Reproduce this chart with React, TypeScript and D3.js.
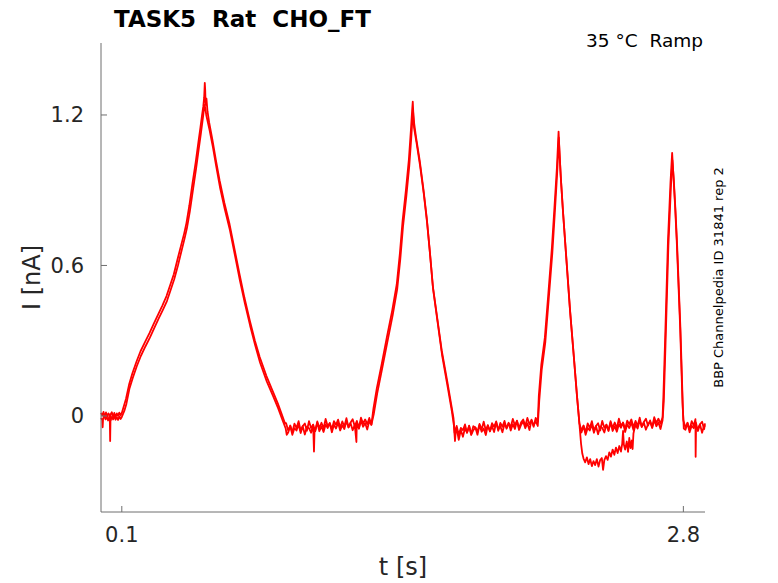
import * as d3 from 'd3';
import { useEffect, useRef } from 'react';

// axis ticks
const xTicks = [0.1, 2.8];
const yTicks = [0, 0.6, 1.2];

// sweep A - upper side of the recorded band, [t (s), I (nA)]
const sweepA: [number, number][] = [
    [0.000, 0.012], [0.006, 0.002], [0.012, 0.016], [0.018, -0.004], [0.024, 0.014], [0.030, -0.002], [0.036, 0.010], [0.042, 0.003],
    [0.044, -0.100], [0.046, 0.006], [0.052, 0.015], [0.058, -0.003], [0.064, 0.012], [0.070, -0.005], [0.076, 0.010], [0.082, 0.000],
    [0.088, 0.013], [0.094, 0.002], [0.100, 0.012],
    [0.110, 0.040], [0.120, 0.068], [0.135, 0.125], [0.151, 0.170], [0.170, 0.215], [0.190, 0.258], [0.212, 0.295], [0.233, 0.330],
    [0.255, 0.370], [0.275, 0.405], [0.295, 0.440], [0.315, 0.478], [0.332, 0.520], [0.350, 0.565], [0.368, 0.625], [0.385, 0.680],
    [0.400, 0.728], [0.411, 0.770], [0.425, 0.840], [0.440, 0.928], [0.455, 1.010], [0.468, 1.090], [0.478, 1.150], [0.486, 1.200],
    [0.492, 1.235], [0.496, 1.270], [0.499, 1.328], [0.501, 1.300], [0.503, 1.240], [0.507, 1.265], [0.512, 1.215],
    [0.520, 1.170], [0.536, 1.100], [0.552, 1.022], [0.570, 0.940], [0.593, 0.850], [0.618, 0.765], [0.642, 0.665], [0.666, 0.565],
    [0.690, 0.470], [0.715, 0.382], [0.740, 0.300], [0.763, 0.235], [0.795, 0.160], [0.825, 0.100], [0.850, 0.050], [0.870, 0.005],
    [0.885, -0.030],
    [0.89, -0.029], [0.90, -0.058], [0.91, -0.038], [0.92, -0.065], [0.93, -0.031], [0.94, -0.048], [0.95, -0.021], [0.96, -0.059],
    [0.97, -0.040], [0.98, -0.030], [0.99, -0.059], [1.00, -0.021], [1.01, -0.048], [1.02, -0.035], [1.03, -0.061], [1.04, -0.022],
    [1.05, -0.048], [1.06, -0.027], [1.07, -0.050], [1.08, -0.012], [1.09, -0.041], [1.10, -0.029], [1.11, -0.053], [1.12, -0.021],
    [1.13, -0.035], [1.14, -0.015], [1.15, -0.047], [1.16, -0.022], [1.17, -0.042], [1.18, -0.009], [1.19, -0.046], [1.20, -0.026],
    [1.21, -0.013], [1.22, -0.041], [1.23, -0.020], [1.24, -0.048], [1.25, -0.007], [1.26, -0.030], [1.27, -0.014], [1.28, -0.033],
    [1.29, -0.008], [1.30, -0.035],
    [1.310, 0.030], [1.326, 0.110], [1.350, 0.208], [1.374, 0.312], [1.400, 0.420], [1.422, 0.525], [1.437, 0.648], [1.450, 0.778],
    [1.466, 0.900], [1.480, 1.020], [1.490, 1.140], [1.496, 1.220], [1.499, 1.253], [1.502, 1.200], [1.506, 1.165],
    [1.515, 1.110], [1.532, 1.020], [1.550, 0.905], [1.566, 0.790], [1.580, 0.665], [1.595, 0.520], [1.617, 0.388], [1.638, 0.262],
    [1.667, 0.128], [1.685, 0.040], [1.695, -0.010],
    [1.70, -0.067], [1.71, -0.040], [1.72, -0.075], [1.73, -0.048], [1.74, -0.057], [1.75, -0.034], [1.76, -0.067], [1.77, -0.040],
    [1.78, -0.072], [1.79, -0.041], [1.80, -0.046], [1.81, -0.064], [1.82, -0.032], [1.83, -0.054], [1.84, -0.023], [1.85, -0.057],
    [1.86, -0.038], [1.87, -0.060], [1.88, -0.029], [1.89, -0.043], [1.90, -0.022], [1.91, -0.059], [1.92, -0.028], [1.93, -0.043],
    [1.94, -0.020], [1.95, -0.051], [1.96, -0.030], [1.97, -0.044], [1.98, -0.012], [1.99, -0.037], [2.00, -0.020], [2.01, -0.048],
    [2.02, -0.025], [2.03, -0.014], [2.04, -0.040], [2.05, -0.008], [2.06, -0.033], [2.07, -0.017], [2.08, -0.043], [2.09, -0.008],
    [2.10, -0.023],
    [2.105, 0.080], [2.117, 0.205], [2.134, 0.312], [2.151, 0.490], [2.168, 0.672], [2.180, 0.830], [2.192, 0.990], [2.197, 1.080],
    [2.200, 1.134], [2.204, 1.060], [2.210, 0.960], [2.220, 0.830], [2.237, 0.630], [2.254, 0.432], [2.271, 0.260], [2.288, 0.085],
    [2.296, 0.010],
    [2.30, -0.029], [2.31, -0.058], [2.32, -0.038], [2.33, -0.065], [2.34, -0.030], [2.35, -0.048], [2.36, -0.021], [2.37, -0.058],
    [2.38, -0.040], [2.39, -0.029], [2.40, -0.058], [2.41, -0.020], [2.42, -0.047], [2.43, -0.035], [2.44, -0.060], [2.45, -0.021],
    [2.46, -0.047], [2.47, -0.026], [2.48, -0.049], [2.49, -0.011], [2.50, -0.040], [2.51, -0.027], [2.52, -0.052], [2.53, -0.019],
    [2.54, -0.033], [2.55, -0.014], [2.56, -0.045], [2.57, -0.020], [2.58, -0.040], [2.59, -0.007], [2.60, -0.044], [2.61, -0.024],
    [2.62, -0.011], [2.63, -0.039], [2.64, -0.018], [2.65, -0.045], [2.66, -0.005], [2.67, -0.028], [2.68, -0.011], [2.69, -0.031],
    [2.70, -0.005],
    [2.704, 0.080], [2.712, 0.300], [2.726, 0.700], [2.738, 0.930], [2.746, 1.049], [2.752, 0.960], [2.760, 0.840], [2.768, 0.700],
    [2.784, 0.365], [2.796, 0.050],
    [2.80, -0.017], [2.81, -0.047], [2.82, -0.027], [2.83, -0.055], [2.84, -0.021], [2.85, -0.039], [2.858, -0.013], [2.859, -0.163],
    [2.861, -0.045], [2.87, -0.051], [2.88, -0.033], [2.89, -0.023], [2.90, -0.053], [2.904, -0.030]
];

// sweep B - lower side of the band, incl. the deep trace after the third peak
const sweepB: [number, number][] = [
    [0.000, -0.008], [0.006, -0.016], [0.008, -0.045], [0.010, -0.012], [0.016, 0.004], [0.022, -0.014], [0.028, -0.004], [0.034, -0.018],
    [0.040, -0.002], [0.046, -0.018], [0.052, -0.004], [0.058, -0.014], [0.064, 0.002], [0.070, -0.015], [0.076, -0.005], [0.082, -0.016],
    [0.088, -0.002], [0.094, -0.012], [0.100, -0.004],
    [0.112, 0.020], [0.122, 0.048], [0.137, 0.110], [0.153, 0.152], [0.172, 0.198], [0.192, 0.240], [0.214, 0.278], [0.235, 0.312],
    [0.257, 0.352], [0.277, 0.388], [0.297, 0.422], [0.317, 0.458], [0.334, 0.500], [0.352, 0.545], [0.370, 0.600], [0.387, 0.658],
    [0.402, 0.708], [0.413, 0.748], [0.427, 0.815], [0.442, 0.900], [0.457, 0.985], [0.470, 1.065], [0.480, 1.125], [0.488, 1.175],
    [0.494, 1.215], [0.498, 1.240], [0.502, 1.225], [0.506, 1.200],
    [0.514, 1.170], [0.522, 1.140], [0.538, 1.072], [0.554, 0.995], [0.572, 0.912], [0.595, 0.825], [0.620, 0.740], [0.644, 0.640],
    [0.668, 0.540], [0.692, 0.448], [0.717, 0.360], [0.742, 0.280], [0.765, 0.212], [0.797, 0.138], [0.827, 0.080], [0.852, 0.030],
    [0.872, -0.015], [0.888, -0.050], [0.893, -0.075],
    [0.90, -0.066], [0.91, -0.040], [0.92, -0.075], [0.93, -0.049], [0.94, -0.058], [0.95, -0.034], [0.96, -0.068], [0.97, -0.041],
    [0.98, -0.074], [0.99, -0.043], [1.00, -0.049], [1.01, -0.067], [1.02, -0.035], [1.024, -0.142], [1.027, -0.050], [1.03, -0.058],
    [1.04, -0.027], [1.05, -0.061], [1.06, -0.042], [1.07, -0.064], [1.08, -0.034], [1.09, -0.048], [1.10, -0.028], [1.11, -0.065],
    [1.12, -0.035], [1.13, -0.050], [1.14, -0.027], [1.15, -0.058], [1.16, -0.037], [1.17, -0.052], [1.18, -0.020], [1.19, -0.045],
    [1.20, -0.029], [1.21, -0.057], [1.22, -0.035], [1.228, -0.104], [1.23, -0.024], [1.24, -0.051], [1.25, -0.018], [1.26, -0.043],
    [1.27, -0.028], [1.28, -0.054], [1.29, -0.020], [1.30, -0.035],
    [1.312, 0.010], [1.328, 0.090], [1.352, 0.190], [1.376, 0.292], [1.402, 0.400], [1.424, 0.505], [1.439, 0.625], [1.452, 0.755],
    [1.468, 0.875], [1.482, 0.995], [1.491, 1.100], [1.497, 1.180], [1.501, 1.210], [1.505, 1.150],
    [1.517, 1.090], [1.534, 0.998], [1.552, 0.885], [1.568, 0.770], [1.582, 0.645], [1.597, 0.505], [1.619, 0.370], [1.640, 0.242],
    [1.669, 0.105], [1.687, 0.018], [1.697, -0.040], [1.702, -0.100], [1.706, -0.060],
    [1.71, -0.048], [1.72, -0.095], [1.73, -0.056], [1.74, -0.083], [1.75, -0.049], [1.76, -0.066], [1.77, -0.039], [1.78, -0.076],
    [1.79, -0.057], [1.80, -0.046], [1.81, -0.075], [1.82, -0.036], [1.83, -0.063], [1.84, -0.050], [1.85, -0.076], [1.86, -0.037],
    [1.87, -0.062], [1.88, -0.041], [1.89, -0.064], [1.90, -0.025], [1.91, -0.054], [1.92, -0.041], [1.93, -0.065], [1.94, -0.032],
    [1.95, -0.047], [1.96, -0.027], [1.97, -0.058], [1.98, -0.033], [1.99, -0.052], [2.00, -0.019], [2.01, -0.056], [2.02, -0.035],
    [2.03, -0.022], [2.04, -0.049], [2.05, -0.029], [2.06, -0.056], [2.07, -0.015], [2.08, -0.038], [2.09, -0.021], [2.10, -0.040],
    [2.107, 0.060], [2.119, 0.185], [2.136, 0.292], [2.153, 0.470], [2.170, 0.650], [2.182, 0.810], [2.193, 0.965], [2.198, 1.050],
    [2.201, 1.110], [2.205, 1.040], [2.212, 0.935], [2.222, 0.805], [2.239, 0.610], [2.256, 0.412], [2.273, 0.240], [2.290, 0.065],
    [2.298, -0.010], [2.303, -0.060],
    [2.308, -0.110], [2.314, -0.150], [2.320, -0.170], [2.328, -0.185], [2.336, -0.165], [2.344, -0.192], [2.352, -0.172], [2.360, -0.200],
    [2.368, -0.180], [2.376, -0.196], [2.384, -0.172], [2.392, -0.202], [2.400, -0.176], [2.408, -0.168], [2.414, -0.215], [2.420, -0.176],
    [2.428, -0.160], [2.436, -0.175], [2.444, -0.145], [2.452, -0.162], [2.460, -0.134], [2.468, -0.155], [2.476, -0.126], [2.484, -0.148],
    [2.492, -0.120], [2.500, -0.142], [2.506, -0.110], [2.510, -0.060], [2.514, -0.115], [2.520, -0.134], [2.528, -0.102], [2.534, -0.143],
    [2.540, -0.088], [2.546, -0.128], [2.552, -0.098], [2.556, -0.132], [2.560, -0.070], [2.565, -0.050],
    [2.57, -0.035], [2.58, -0.050], [2.59, -0.018], [2.60, -0.043], [2.61, -0.027], [2.62, -0.055], [2.63, -0.033], [2.64, -0.022],
    [2.65, -0.048], [2.66, -0.016], [2.67, -0.041], [2.68, -0.025], [2.69, -0.052], [2.70, -0.017],
    [2.706, 0.060], [2.714, 0.280], [2.728, 0.680], [2.740, 0.910], [2.747, 1.020], [2.754, 0.940], [2.762, 0.820], [2.770, 0.680],
    [2.786, 0.345], [2.798, 0.020], [2.802, -0.050],
    [2.81, -0.055], [2.82, -0.029], [2.83, -0.065], [2.84, -0.039], [2.85, -0.049], [2.86, -0.026], [2.87, -0.060], [2.88, -0.034],
    [2.89, -0.067], [2.90, -0.037], [2.904, -0.043]
];

// sweep C - lower edge of the upper band between the third and fourth peak
const sweepC: [number, number][] = [
    [2.303, -0.050], [2.31, -0.066], [2.32, -0.040], [2.33, -0.075], [2.34, -0.048], [2.35, -0.058], [2.36, -0.034], [2.37, -0.067],
    [2.38, -0.041], [2.39, -0.073], [2.40, -0.042], [2.41, -0.048], [2.42, -0.066], [2.43, -0.035], [2.44, -0.057], [2.45, -0.026],
    [2.46, -0.060], [2.47, -0.041], [2.48, -0.063], [2.49, -0.033], [2.50, -0.047], [2.51, -0.026], [2.52, -0.064], [2.53, -0.033],
    [2.54, -0.048], [2.55, -0.026], [2.56, -0.056], [2.57, -0.035]
];

const sweeps = [sweepA, sweepB, sweepC];

const App = () => {
    const ref = useRef<any>();
    const dims = {
        width: 778,
        height: 583,
        left: 101,
        right: 705,
        top: 43,
        bottom: 512
    };
    const font = '"DejaVu Sans", sans-serif';
    const axisColor = '#6e6e6e';
    const textColor = '#262626';

    useEffect(() => {
        const svg = d3.select(ref.current);
        svg.selectAll('*').remove();

        const x = d3.scaleLinear().domain([0, 2.904]).range([dims.left, dims.right]);
        const y = d3.scaleLinear().domain([-0.383, 1.487]).range([dims.bottom, dims.top]);

        const line = d3.line<[number, number]>()
            .x((d) => x(d[0]))
            .y((d) => y(d[1]));

        svg.append('g').selectAll('path').data(sweeps).join('path')
            .attr('d', (d: any) => line(d))
            .attr('fill', 'none')
            .attr('stroke', '#ff0000')
            .attr('stroke-width', 1.8)
            .attr('stroke-linejoin', 'round');

        // axes, ticks pointing inward
        const ax = svg.append('g');
        ax.append('line').attr('x1', dims.left).attr('x2', dims.right).attr('y1', dims.bottom).attr('y2', dims.bottom)
            .attr('stroke', axisColor);
        ax.append('line').attr('x1', dims.left).attr('x2', dims.left).attr('y1', dims.top).attr('y2', dims.bottom)
            .attr('stroke', axisColor);

        ax.selectAll('.xt').data(xTicks).join('line').attr('class', 'xt')
            .attr('x1', (d) => x(d)).attr('x2', (d) => x(d))
            .attr('y1', dims.bottom).attr('y2', dims.bottom - 6)
            .attr('stroke', axisColor);
        ax.selectAll('.xl').data(xTicks).join('text').attr('class', 'xl')
            .attr('x', (d) => x(d)).attr('y', dims.bottom + 30)
            .attr('text-anchor', 'middle')
            .attr('font-family', font).attr('font-size', 21).attr('fill', textColor)
            .text((d) => d.toString());

        ax.selectAll('.yt').data(yTicks).join('line').attr('class', 'yt')
            .attr('x1', dims.left).attr('x2', dims.left + 6)
            .attr('y1', (d) => y(d)).attr('y2', (d) => y(d))
            .attr('stroke', axisColor);
        ax.selectAll('.yl').data(yTicks).join('text').attr('class', 'yl')
            .attr('x', 84).attr('y', (d) => y(d) + 7.5)
            .attr('text-anchor', 'end')
            .attr('font-family', font).attr('font-size', 21).attr('fill', textColor)
            .text((d) => d.toString());

        // labels
        svg.append('text')
            .attr('x', (dims.left + dims.right) / 2).attr('y', 575)
            .attr('text-anchor', 'middle')
            .attr('font-family', font).attr('font-size', 24).attr('fill', textColor)
            .text('t [s]');
        svg.append('text')
            .attr('transform', `translate(40, ${(dims.top + dims.bottom) / 2}) rotate(-90)`)
            .attr('text-anchor', 'middle')
            .attr('font-family', font).attr('font-size', 24).attr('fill', textColor)
            .text('I [nA]');

        svg.append('text')
            .attr('x', 114).attr('y', 27)
            .attr('font-family', font).attr('font-size', 23).attr('font-weight', 'bold').attr('fill', '#000')
            .style('white-space', 'pre')
            .text('TASK5  Rat  CHO_FT');
        svg.append('text')
            .attr('x', 703).attr('y', 47)
            .attr('text-anchor', 'end')
            .attr('font-family', font).attr('font-size', 18.5).attr('fill', '#000')
            .style('white-space', 'pre')
            .text('35 °C  Ramp');
        svg.append('text')
            .attr('transform', `translate(723, ${(dims.top + dims.bottom) / 2}) rotate(-90)`)
            .attr('text-anchor', 'middle')
            .attr('font-family', font).attr('font-size', 13).attr('fill', '#000')
            .text('BBP Channelpedia ID 31841 rep 2');
    }, []);

    return (
        <svg ref={ref} width={dims.width} height={dims.height}
            style={{ position: 'absolute', left: 0, top: 0, display: 'block', background: '#fff' }} />
    );
};

export default App;
